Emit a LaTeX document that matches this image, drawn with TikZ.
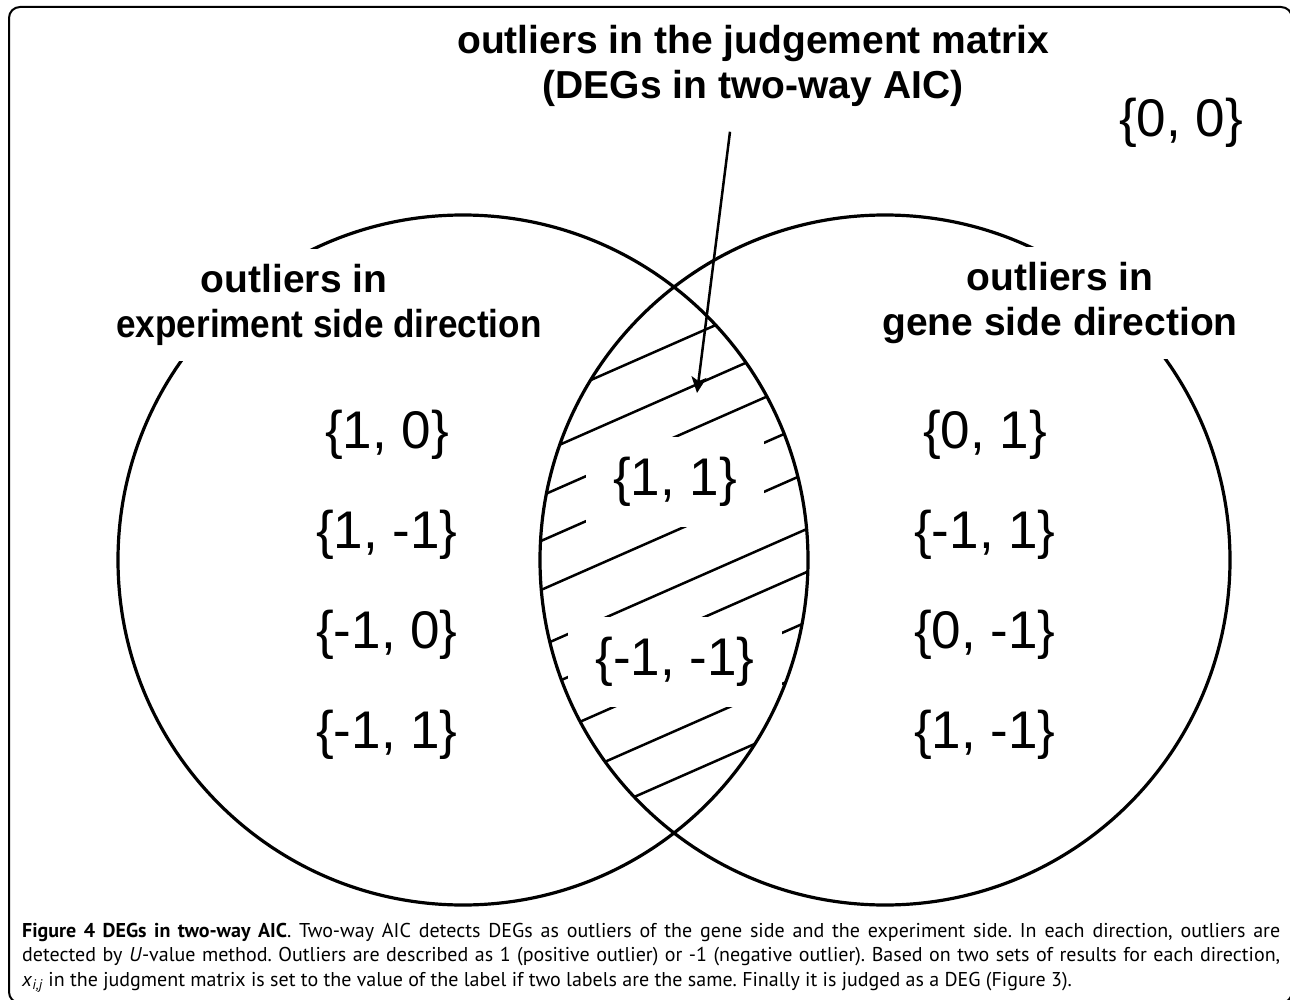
\documentclass[tikz,border=0pt]{standalone}
\usepackage{fontspec}
\setmainfont{Liberation Sans}
\newfontfamily\capfont{PT Sans}
\usetikzlibrary{calc,positioning,arrows.meta}

\begin{document}
\begin{tikzpicture}[x=1pt,y=-1pt,
    headlab/.style={font=\fontsize{39}{45}\selectfont\bfseries,align=center,inner sep=15pt,fill=white,anchor=north},
    setlab/.style={font=\fontsize{53}{60}\selectfont,inner sep=0pt},
    knock/.style={fill=white,inner xsep=27pt,inner ysep=20pt},
    venn/.style={draw,line width=3.2pt,circle,minimum size=690pt,inner sep=0pt},
    hatch/.style={line width=2.5pt}]
  \useasboundingbox (0,0) rectangle (1290,1000);
  \clip (0,0) rectangle (1290,1000);
  \draw[line width=2pt,rounded corners=11pt] (9,7) rectangle (1292,1003);

  % hatched overlap
  \begin{scope}
    \clip (463,560) circle[radius=345];
    \clip (885,560) circle[radius=345];
    \foreach \b in {640,691,734,779,828,884,927,977,1028,1076}
      \draw[hatch] (520,{\b-0.44*520}) -- (840,{\b-0.44*840});
  \end{scope}
  \node[setlab,knock] (both11) at (675,482) {\{1, 1\}};
  \node[setlab,knock] (both00) at (675,662) {\{-1, -1\}};

  \node[venn] (expset) at (463,560) {};
  \node[venn] (geneset) at (885,560) {};

  \node[headlab] (judgehead) at (753,10) {outliers in the judgement matrix\\(DEGs in two-way AIC)};
  \node[headlab] (exphead) at (329,249) {outliers in\hspace*{70pt}\\\scalebox{0.9}[1]{experiment side direction}};
  \node[headlab] (genehead) at (1060,247) {outliers in\\gene side direction};

  \foreach \a/\c/\r in {1/0/0, 1/-1/1, -1/0/2, -1/1/3}
    \node[setlab] (expval\r) at (387,{435+\r*100}) {\{\a, \c\}};
  \foreach \a/\c/\r in {0/1/0, -1/1/1, 0/-1/2, 1/-1/3}
    \node[setlab] (geneval\r) at (985,{435+\r*100}) {\{\a, \c\}};
  \node[setlab] (noneval) at (1181,123) {\{0, 0\}};

  \coordinate (judgetip) at (697,393);
  \draw[line width=2.5pt,-{Stealth[length=16pt,width=15pt,inset=4pt]}]
    ($(judgehead.south)+(-23,10)$) -- (judgetip);

  \node[anchor=north west,inner sep=0pt,text width=1258pt,align=justify,
        font=\capfont\fontsize{20}{24.5}\selectfont\frenchspacing] (caption) at (22,923)
    {\textbf{Figure 4 DEGs in two-way AIC}. Two-way AIC detects DEGs as outliers of the gene side and the experiment side. In each direction, outliers are\linebreak detected by \textit{U}-value method. Outliers are described as 1 (positive outlier) or -1 (negative outlier). Based on two sets of results for each direction,\linebreak \textit{x}\textsubscript{\textit{i,j}} in the judgment matrix is set to the value of the label if two labels are the same. Finally it is judged as a DEG (Figure 3).};
\end{tikzpicture}
\end{document}
